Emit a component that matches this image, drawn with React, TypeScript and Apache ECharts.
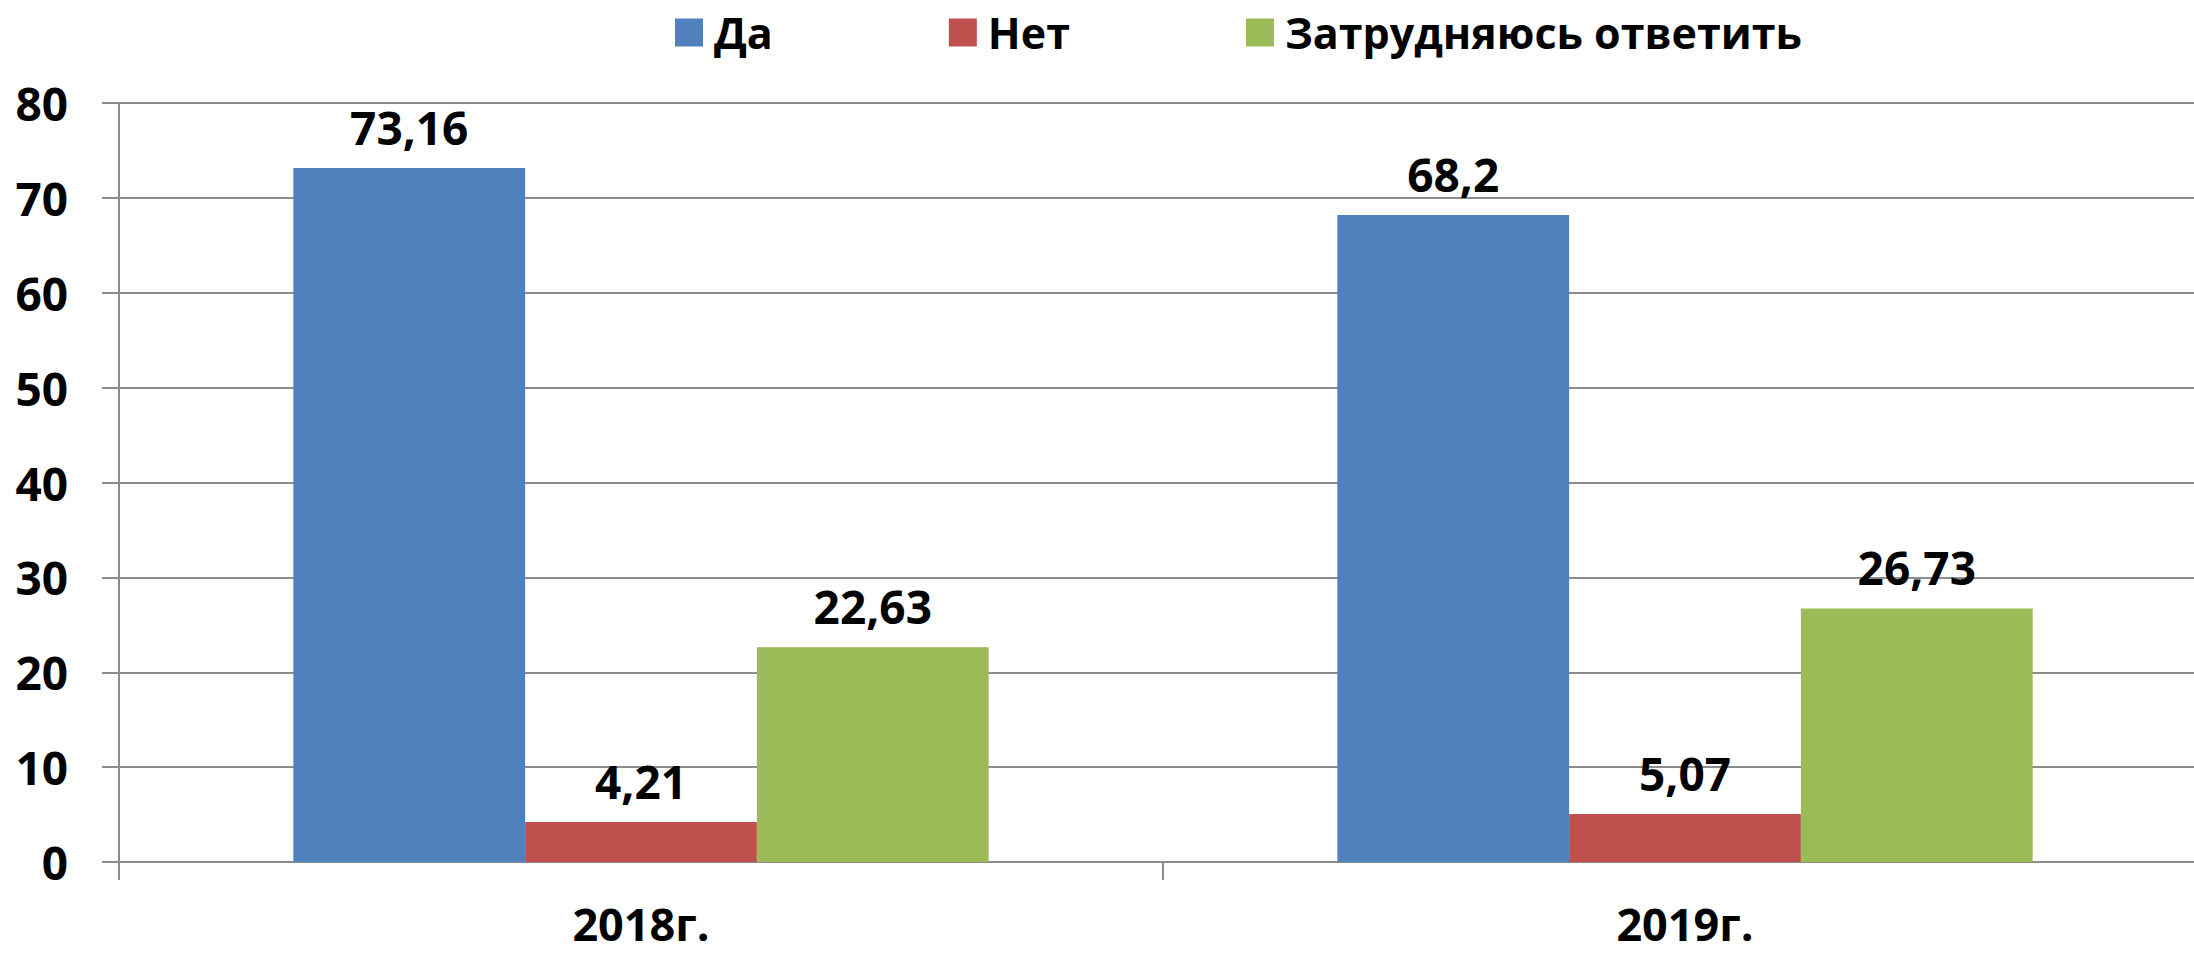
import React, { useEffect, useRef } from "react";
import * as echarts from "echarts";

const categories = ["2018г.", "2019г."];
const seriesNames = ["Да", "Нет", "Затрудняюсь ответить"];
const yesValues = [73.16, 68.2];
const noValues = [4.21, 5.07];
const unsureValues = [22.63, 26.73];
const colors = ["#4f81bd", "#c0504d", "#9bbb59"];

const FONT = "Open Sans";

export default function App() {
  const ref = useRef<HTMLDivElement>(null);
  useEffect(() => {
    if (!ref.current) return;
    const chart = echarts.init(ref.current, null, { renderer: "svg" });
    const fmt = (p: any) => String(p.value).replace(".", ",");
    const label = {
      show: true,
      position: "top",
      distance: 18,
      formatter: fmt,
      fontFamily: FONT,
      fontWeight: "bold",
      fontSize: 46,
      color: "#000",
    };
    const allValues = [yesValues, noValues, unsureValues];
    chart.setOption({
      animation: false,
      backgroundColor: "#fff",
      legend: {
        top: 6,
        left: 670,
        itemWidth: 28,
        itemHeight: 28,
        itemGap: 176,
        icon: "rect",
        textStyle: {
          fontFamily: FONT,
          fontWeight: "bold",
          fontSize: 43,
          color: "#000",
          padding: [0, 0, 0, 6],
        },
        data: seriesNames,
      },
      grid: {
        left: 119,
        width: 2088,
        top: 103,
        bottom: 91,
        containLabel: false,
        outerBoundsMode: "none",
      },
      xAxis: {
        type: "category",
        data: categories,
        axisLine: { show: true, lineStyle: { color: "#8c8c8c", width: 2 } },
        axisTick: { show: true, length: 18, lineStyle: { color: "#8c8c8c", width: 2 } },
        axisLabel: {
          margin: 43,
          lineHeight: 36,
          fontFamily: FONT,
          fontWeight: "bold",
          fontSize: 45,
          color: "#000",
        },
      },
      yAxis: {
        type: "value",
        min: 0,
        max: 80,
        interval: 10,
        axisLine: { show: true, lineStyle: { color: "#8c8c8c", width: 2 } },
        axisTick: { show: true, length: 17, lineStyle: { color: "#8c8c8c", width: 2 } },
        splitLine: { show: true, lineStyle: { color: "#8c8c8c", width: 2 } },
        axisLabel: {
          margin: 51,
          fontFamily: FONT,
          fontWeight: "bold",
          fontSize: 46,
          color: "#000",
        },
      },
      series: seriesNames.map((name, i) => ({
        name,
        type: "bar",
        data: allValues[i],
        barGap: "0%",
        barCategoryGap: "33.4%",
        itemStyle: { color: colors[i] },
        label,
      })),
    });
    return () => chart.dispose();
  }, []);
  return (
    <div
      ref={ref}
      style={{ position: "fixed", left: 0, top: 0, width: 2194, height: 953, background: "#fff" }}
    />
  );
}
